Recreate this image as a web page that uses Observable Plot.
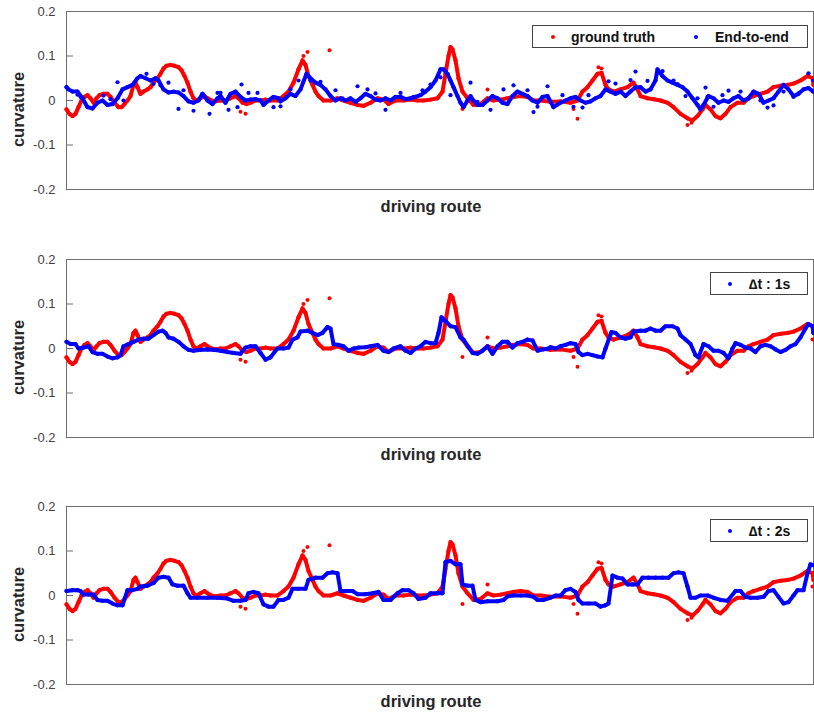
<!DOCTYPE html>
<html>
<head>
<meta charset="utf-8">
<script src="https://cdn.jsdelivr.net/npm/d3@7"></script>
<script src="https://cdn.jsdelivr.net/npm/@observablehq/plot@0.6"></script>
<style>
  body { margin: 0; background: #fff; font-family: "Liberation Sans", Arial, sans-serif; }
  #chart { width: 814px; position: relative; }
  .panel { position: relative; width: 814px; }
  .panel svg { display: block; }
  .legend { position: absolute; box-sizing: border-box; border: 1px solid #444; background: #fff;
            font: bold 14px "Liberation Sans", Arial, sans-serif; color: #111; }
  .legend .item { position: absolute; top: 50%; transform: translateY(-50%); white-space: nowrap; }
  .legend .dot { position: absolute; top: 50%; width: 4px; height: 4px; border-radius: 50%; transform: translate(-50%, -50%); }
</style>
</head>
<body>
<div id="chart"></div>
<script>
// ---- data (route index along the drive, curvature) ----
const yTicks = [-0.2, -0.1, 0, 0.1, 0.2];
const yTickLabels = ["-0.2", "-0.1", "0", "0.1", "0.2"];
const yLabel = "curvature";
const xLabel = "driving route";
const seriesNames = ["ground truth", "End-to-end", "\u2206t : 1s", "\u2206t : 2s"];

const gtRoute = [0,3,6,9,12,15,18,21,24,27,30,33,37,41,44,48,52,55,58,61,64,67,69,71,74,77,81,84,87,91,94,97,100,104,108,112,115,118,121,124,127,130,134,138,141,145,149,154,159,164,169,172,176,180,184,189,194,199,204,211,217,222,227,232,236,239,242,246,249,252,257,264,271,277,284,291,297,304,311,317,322,329,337,344,351,357,364,371,376,379,382,384,386,389,392,396,401,407,414,421,427,434,441,447,454,461,467,474,484,494,504,511,516,521,526,531,535,539,542,547,554,561,567,571,574,581,587,594,601,607,614,621,626,631,636,639,644,649,654,659,664,671,677,682,687,694,701,707,714,721,727,734,741,746,747];
const gtCurv = [-0.02,-0.03,-0.035,-0.03,-0.015,0,0.008,0.012,0.005,-0.005,0.005,0.012,0.015,0.015,0.008,-0.005,-0.015,-0.015,-0.008,0,0.01,0.035,0.04,0.03,0.015,0.02,0.025,0.03,0.04,0.05,0.06,0.072,0.078,0.08,0.078,0.075,0.068,0.055,0.04,0.02,0.005,0,0.005,0.01,0.005,0,-0.002,0,0,0.005,0.01,0.005,-0.005,-0.008,-0.005,0,0,0.002,0,0,0.01,0.02,0.04,0.07,0.09,0.08,0.055,0.035,0.02,0.01,0,0,0.005,0,-0.005,-0.01,-0.012,-0.005,0.005,0.002,-0.008,0,0,0.002,0,0,0.002,0.005,0.02,0.06,0.1,0.12,0.115,0.09,0.05,0.02,0.005,-0.01,-0.008,0.005,0,0.002,0.005,0.008,0.01,0.008,0,0,-0.003,-0.002,-0.005,0,0.02,0.03,0.045,0.06,0.062,0.035,0.025,0.02,0.025,0.03,0.04,0.025,0.01,0.005,0.003,0,-0.005,-0.015,-0.03,-0.04,-0.045,-0.035,-0.02,-0.01,-0.02,-0.035,-0.04,-0.03,-0.015,-0.005,-0.005,0.005,0.01,0.015,0.02,0.03,0.033,0.035,0.038,0.045,0.055,0.05,0.035];
const gtOutRoute = [263,511,507,174,179,396,421,532,535,237,241,621,625,746];
const gtOutCurv = [0.113,-0.041,-0.019,-0.025,-0.03,-0.019,0.025,0.075,0.072,0.1,0.109,-0.055,-0.05,0.02];

const e2eRoute = [0,2,6,11,16,21,26,31,36,41,46,51,56,61,66,71,74,79,84,89,92,97,102,107,112,117,122,127,132,136,141,146,151,154,159,164,169,174,179,184,189,194,197,202,207,212,214,219,224,229,234,240,244,249,254,259,264,269,274,279,284,289,294,299,304,309,314,319,324,329,334,339,344,349,354,359,364,369,374,377,381,384,387,391,394,397,401,404,407,411,416,421,426,431,436,441,446,451,456,461,466,471,476,481,487,494,499,504,509,514,519,524,529,534,539,544,549,554,559,564,569,574,579,584,589,591,596,601,606,611,616,621,626,631,634,637,642,647,652,657,662,667,672,677,682,687,692,697,702,707,712,717,722,727,732,737,742,747];
const e2eCurv = [0.03,0.025,0.02,0.02,0.005,-0.015,-0.018,-0.005,0,-0.01,-0.008,0.005,0.025,0.03,0.035,0.05,0.055,0.05,0.045,0.05,0.045,0.025,0.018,0.02,0.018,0.01,-0.002,-0.005,0,0.015,0,-0.008,0.005,0.01,-0.005,0.015,0.02,0.008,0,0.002,0.003,0,-0.01,0,0.008,0.005,-0.002,0.005,0.015,0.01,0.025,0.06,0.05,0.04,0.035,0.025,0.01,0,0.005,0,0.005,-0.003,0.005,0.015,0.01,0.002,0,0.005,0,0.008,0.008,0.003,0.005,0.008,0.012,0.02,0.03,0.045,0.07,0.07,0.06,0.045,0.03,0.01,-0.005,-0.015,0,0.01,0,-0.01,-0.01,0,0.01,0.005,-0.005,-0.008,0.01,0.02,0.015,0.01,0,-0.005,0.008,0.01,-0.015,-0.005,0,0.005,0.008,0,-0.005,-0.002,0.005,0.01,0.025,0.02,0.015,0.02,0.01,0.02,0.03,0.03,0.02,0.025,0.045,0.07,0.055,0.045,0.04,0.035,0.03,0.02,0.005,-0.01,-0.02,-0.01,0.01,0.005,-0.005,0,-0.003,0.005,0.01,0,0.005,0.02,0.015,-0.005,0,0.005,0.02,0.035,0.025,0.01,0.015,0.025,0.028,0.02];
const e2eDotRoute = [11,51,57,80,87,102,112,127,136,143,154,162,175,182,171,207,14,37,44,94,117,151,191,214,224,232,244,254,269,276,291,301,309,319,334,347,356,364,374,384,404,411,424,437,447,461,467,471,481,496,507,516,522,542,549,564,569,581,596,607,611,619,631,639,641,647,656,662,674,682,694,701,707,717,727,732,742,747];
const e2eDotCurv = [0.013,0.041,0,0.06,0.037,0.04,-0.019,-0.023,0.015,-0.03,0.017,-0.021,0.036,0.017,-0.015,-0.015,0.008,0.011,0.003,0.034,0.023,0.017,0.017,-0.013,0.025,0.045,0.045,0.042,0.023,0.005,0.032,0.025,0.016,-0.021,0.017,0.008,0.023,0.036,0.052,0.012,0.04,-0.003,-0.021,0.025,0.034,0.023,-0.026,-0.014,0.032,0.012,-0.014,-0.016,0.012,0.043,0.038,0.046,0.065,0.044,0.066,0.045,0.037,0.01,0.005,0.029,0.008,-0.014,0.012,0.022,0.02,0.004,0,-0.016,-0.011,0.02,0.008,0.016,0.061,0.045];

const dt1Route = [0,4,9,12,17,22,26,31,36,41,46,51,54,57,62,67,72,77,82,87,92,96,99,102,107,112,117,122,127,134,141,147,154,161,167,174,179,184,189,194,199,204,209,211,217,222,226,231,234,241,246,251,256,261,264,267,272,277,282,287,292,299,304,311,317,322,327,334,339,344,349,354,359,364,369,372,375,379,384,389,394,397,402,406,411,416,421,426,431,436,441,446,451,456,461,466,471,477,482,484,489,494,499,504,509,512,516,521,526,531,536,539,545,549,554,559,564,567,574,579,584,589,594,599,606,611,614,619,624,629,632,637,642,647,652,657,662,666,669,674,679,684,689,694,699,704,709,714,719,724,729,734,739,742,746,747];
const dt1Curv = [0.015,0.01,0.01,0,0.002,0.005,-0.008,-0.012,-0.012,-0.018,-0.022,-0.02,-0.015,0.005,0.01,0.015,0.02,0.022,0.022,0.03,0.038,0.04,0.035,0.025,0.022,0.015,0.005,-0.003,-0.005,-0.003,-0.002,-0.003,-0.005,-0.008,-0.01,-0.012,0.002,0.005,0.005,-0.01,-0.025,-0.02,-0.005,0,0,0.002,0.02,0.025,0.038,0.04,0.035,0.03,0.035,0.048,0.045,0.01,0.008,0.005,-0.005,0,0.002,0.003,0.005,0.008,-0.005,-0.008,0,0.005,-0.005,-0.01,0,0.005,0.015,0.012,0.012,0.035,0.07,0.062,0.05,0.048,0.025,0.02,0.003,-0.01,-0.012,-0.005,0.005,-0.012,0.005,0.015,0.015,0.002,0.012,0.015,0.02,0.018,-0.005,-0.002,0,0.003,0,0.005,0.008,0.012,0.01,-0.008,-0.015,-0.012,-0.015,-0.018,-0.02,0,0.037,0.035,0.025,0.022,0.025,0.038,0.04,0.04,0.045,0.04,0.04,0.05,0.05,0.045,0.03,0.02,0.01,-0.015,-0.02,0.01,0.005,-0.005,-0.005,-0.01,-0.022,0,0.012,0.008,0.002,0,-0.008,0.005,0.008,0.005,-0.002,-0.008,-0.003,0.005,0.01,0.025,0.045,0.055,0.05,0.035];

const dt2Route = [0,6,11,14,17,22,27,31,36,41,46,51,56,61,66,71,74,81,87,92,97,102,106,111,117,121,124,131,141,151,161,167,174,179,182,187,192,197,202,207,212,217,222,226,232,239,242,249,256,261,266,271,274,279,286,291,299,306,312,317,324,331,336,342,347,352,359,364,371,376,379,384,389,394,396,401,406,409,414,421,431,437,441,447,454,461,467,471,477,484,489,494,499,504,509,512,516,522,529,534,539,542,546,551,556,561,566,571,576,582,589,596,602,607,612,617,621,624,629,634,641,647,654,661,669,674,679,684,691,697,702,707,712,717,722,727,731,737,741,744,747];
const dt2Curv = [0.01,0.012,0.012,0.01,0.002,0.002,0.002,-0.01,-0.012,-0.012,-0.018,-0.022,-0.022,0.012,0.012,0.015,0.02,0.022,0.028,0.04,0.042,0.04,0.025,0.022,0.022,0.005,-0.005,-0.005,-0.005,-0.005,-0.007,-0.012,-0.012,-0.01,0.005,0.008,0.005,-0.02,-0.025,-0.025,-0.01,-0.01,-0.005,0.015,0.015,0.015,0.035,0.04,0.04,0.05,0.052,0.05,0.01,0.01,0.01,0.003,0.003,0.005,0.008,-0.01,-0.01,0.005,0.012,0.012,0.005,-0.008,-0.005,0.005,0.005,0.005,0.075,0.078,0.07,0.07,0.025,0.022,0.022,-0.01,-0.015,-0.013,-0.013,-0.01,-0.002,0,0,0,-0.003,-0.01,-0.01,-0.005,0,0,0.012,0.015,0.008,-0.01,-0.018,-0.018,-0.018,-0.025,-0.022,-0.018,0.045,0.04,0.038,0.025,0.025,0.025,0.04,0.04,0.04,0.04,0.04,0.05,0.052,0.05,0.02,-0.005,-0.005,0,0,-0.005,-0.01,-0.012,0.01,0.01,-0.003,-0.005,-0.005,-0.003,0.01,0.012,-0.003,-0.018,-0.015,0,0.012,0.012,0.05,0.07,0.068];

// ---- drawing ----
const RED = "#ff0000", BLUE = "#0000ff";
const toRows = (xs, ys) => xs.map((x, i) => ({route: x, curvature: ys[i]}));
const gtRows = toRows(gtRoute, gtCurv);
const gtOutRows = toRows(gtOutRoute, gtOutCurv);

function panel({height, bottom, blueRows, blueDots, legend}) {
  const wrap = document.createElement("div");
  wrap.className = "panel";
  const plot = Plot.plot({
    width: 814,
    height,
    marginLeft: 66, marginRight: 1, marginTop: 11, marginBottom: bottom,
    x: {domain: [0, 747], axis: null},
    y: {domain: [-0.2, 0.2], axis: null},
    style: {fontFamily: "'Liberation Sans', Arial, sans-serif", fontSize: "13px", background: "white", overflow: "visible"},
    marks: [
      Plot.frame({stroke: "#6e6e6e"}),
      Plot.axisY(yTicks, {anchor: "left", tickSize: -7, tickPadding: 18, stroke: "#6e6e6e", fill: "#404040",
        tickFormat: d => yTickLabels[yTicks.indexOf(d)], label: null, fontSize: 13}),
      Plot.line(gtRows, {x: "route", y: "curvature", stroke: RED, strokeWidth: 4, curve: "linear"}),
      Plot.dot(gtRows, {x: "route", y: "curvature", fill: RED, r: 2.1}),
      Plot.dot(gtOutRows, {x: "route", y: "curvature", fill: RED, r: 2}),
      Plot.line(blueRows, {x: "route", y: "curvature", stroke: BLUE, strokeWidth: 4, curve: "linear"}),
      Plot.dot(blueRows, {x: "route", y: "curvature", fill: BLUE, r: 2.1}),
      blueDots ? Plot.dot(blueDots, {x: "route", y: "curvature", fill: BLUE, r: 2.1}) : null,
      Plot.text([yLabel], {frameAnchor: "left", dx: -48, dy: 9, rotate: -90, textAnchor: "middle", lineAnchor: "middle",
        fontWeight: "bold", fontSize: 16.5, fill: "#262626"}),
      Plot.text([xLabel], {frameAnchor: "bottom", dy: 17, dx: -9, textAnchor: "middle", lineAnchor: "middle",
        fontWeight: "bold", fontSize: 16.5, fill: "#262626"})
    ]
  });
  wrap.appendChild(plot);
  const lg = document.createElement("div");
  lg.className = "legend";
  Object.assign(lg.style, {left: legend.left + "px", top: legend.top + "px", width: legend.width + "px", height: legend.height + "px"});
  for (const it of legend.items) {
    const dot = document.createElement("span");
    dot.className = "dot";
    dot.style.left = it.dotX + "px";
    dot.style.background = it.color;
    lg.appendChild(dot);
    const t = document.createElement("span");
    t.className = "item";
    t.style.left = it.textX + "px";
    t.textContent = it.label;
    lg.appendChild(t);
  }
  wrap.appendChild(lg);
  return wrap;
}

const chart = document.getElementById("chart");
chart.appendChild(panel({
  height: 248, bottom: 59,
  blueRows: toRows(e2eRoute, e2eCurv),
  blueDots: toRows(e2eDotRoute, e2eDotCurv),
  legend: {left: 532, top: 25, width: 276, height: 23, items: [
    {label: seriesNames[0], color: RED, dotX: 20, textX: 38},
    {label: seriesNames[1], color: BLUE, dotX: 163, textX: 182}
  ]}
}));
chart.appendChild(panel({
  height: 247, bottom: 58,
  blueRows: toRows(dt1Route, dt1Curv),
  legend: {left: 710, top: 24, width: 98, height: 23, items: [
    {label: seriesNames[2], color: BLUE, dotX: 19, textX: 38}
  ]}
}));
chart.appendChild(panel({
  height: 218, bottom: 29,
  blueRows: toRows(dt2Route, dt2Curv),
  legend: {left: 710, top: 24, width: 98, height: 23, items: [
    {label: seriesNames[3], color: BLUE, dotX: 19, textX: 38}
  ]}
}));
</script>
</body>
</html>
